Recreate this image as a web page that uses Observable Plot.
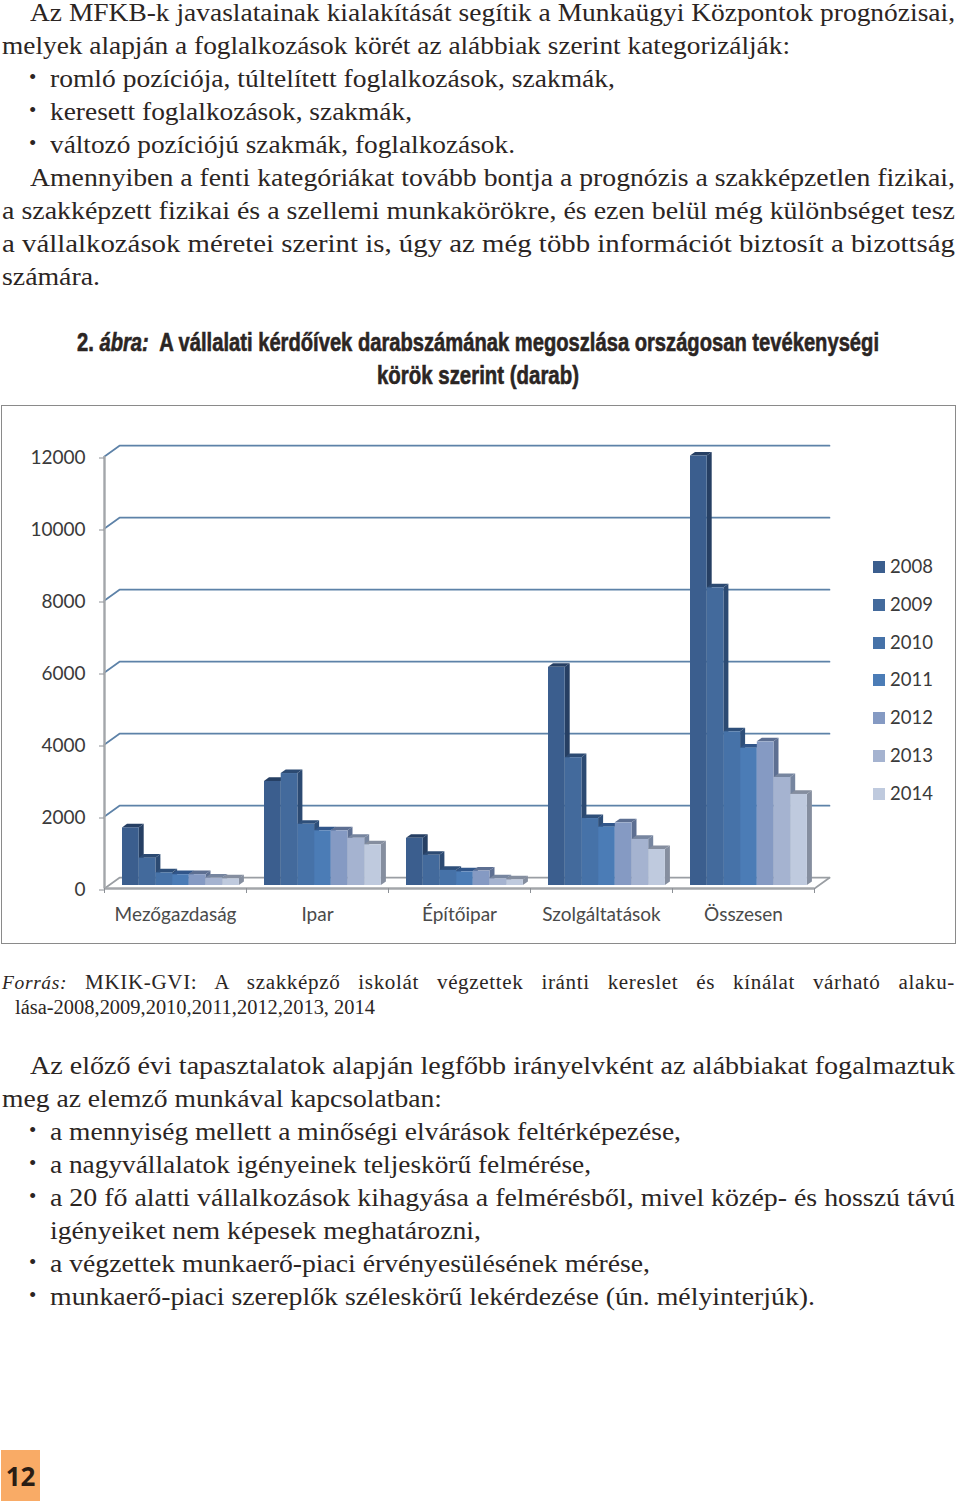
<!DOCTYPE html>
<html><head><meta charset="utf-8">
<script src="https://cdn.jsdelivr.net/npm/d3@7"></script>
<script src="https://cdn.jsdelivr.net/npm/@observablehq/plot@0.6"></script>
<style>
html,body{margin:0;padding:0;background:#fff;width:960px;height:1503px;overflow:hidden}
#page{position:relative;width:960px;height:1503px}
.ln{position:absolute;white-space:nowrap;font-family:"Liberation Serif",serif;font-size:26px;line-height:33px;height:33px;color:#2b2523;transform-origin:0 50%}
.ttl{font-family:"Liberation Sans Narrow","Liberation Sans",sans-serif;font-weight:700;font-size:26px;color:#2b2523;-webkit-text-stroke:0.6px #2b2523}
.src{font-size:20px;line-height:25px;height:25px}
.src i{font-size:18.5px}
#box{position:absolute;left:1px;top:405px;width:953px;height:537px;border:1px solid #8a8a8a;box-sizing:content-box}
#chart{position:absolute;left:0;top:0}
#legend{position:absolute;left:872px;top:548px;font-family:Lato,sans-serif;font-size:18.5px;color:#3a3a3a}
#legend div{position:relative;height:37.8px;line-height:37.8px;padding-left:18px}
#legend i{position:absolute;left:1px;top:13px;width:12px;height:12px}
#pg{position:absolute;left:1px;top:1450px;width:39px;height:51px;background:#f9ab66;color:#2a1d14;font:700 26px/52px "Open Sans",sans-serif;text-align:center}
</style></head><body><div id="page"></div>
<script>
const categories = ["Mezőgazdaság","Ipar","Építőipar","Szolgáltatások","Összesen"];
const years = ["2008","2009","2010","2011","2012","2013","2014"];
const v2008 = [1600,2890,1310,6060,11930];
const v2009 = [760,3110,840,3550,8270];
const v2010 = [350,1700,420,1860,4270];
const v2011 = [300,1520,380,1620,3815];
const v2012 = [300,1520,400,1740,3990];
const v2013 = [205,1310,185,1280,3000];
const v2014 = [185,1130,155,1000,2530];
const series = [v2008,v2009,v2010,v2011,v2012,v2013,v2014];
const frontColors = ["#3b5e8e","#436a9c","#4672a8","#4b7cb6","#859ac3","#a5b3d0","#bfcade"];
const sideColors  = ["#263f63","#2c4a72","#2e4f7a","#31568a","#5d6f92","#76859f","#858e9f"];
const yTicks = [0,2000,4000,6000,8000,10000,12000];

const bodyTop = [
 ["Az MFKB-k javaslatainak kialakítását segítik a Munkaügyi Központok prognózisai,",30,955,12],
 ["melyek alapján a foglalkozások körét az alábbiak szerint kategorizálják:",2,790,45],
 ["romló pozíciója, túltelített foglalkozások, szakmák,",50,615,78,1],
 ["keresett foglalkozások, szakmák,",50,412,111,1],
 ["változó pozíciójú szakmák, foglalkozások.",50,515,144,1],
 ["Amennyiben a fenti kategóriákat tovább bontja a prognózis a szakképzetlen fizikai,",30,955,177],
 ["a szakképzett fizikai és a szellemi munkakörökre, és ezen belül még különbséget tesz",2,955,210],
 ["a vállalkozások méretei szerint is, úgy az még több információt biztosít a bizottság",2,955,243],
 ["számára.",2,100,276],
 ["Az előző évi tapasztalatok alapján legfőbb irányelvként az alábbiakat fogalmaztuk",30,955,1065],
 ["meg az elemző munkával kapcsolatban:",2,442,1098],
 ["a mennyiség mellett a minőségi elvárások feltérképezése,",50,681,1131,1],
 ["a nagyvállalatok igényeinek teljeskörű felmérése,",50,591,1164,1],
 ["a 20 fő alatti vállalkozások kihagyása a felmérésből, mivel közép- és hosszú távú",50,955,1197,1],
 ["igényeiket nem képesek meghatározni,",50,481,1230],
 ["a végzettek munkaerő-piaci érvényesülésének mérése,",50,650,1263,1],
 ["munkaerő-piaci szereplők széleskörű lekérdezése (ún. mélyinterjúk).",50,815,1296,1]
];
const page = document.getElementById("page");
function fit(el,w){ page.appendChild(el); const r=el.getBoundingClientRect().width; el.style.transform=`scaleX(${w/r})`; }
function place(text,x0,x1,yc,cls){
  const d=document.createElement("div"); d.className="ln "+(cls||""); d.textContent=text;
  d.style.left=x0+"px"; d.style.top=(yc-16.5)+"px"; fit(d,x1-x0); return d;
}
for(const [t,a,b,y,bul] of bodyTop){
  place(t,a,b,y);
  if(bul) { const s=document.createElement("div"); s.className="ln"; s.textContent="•"; s.style.left="29px"; s.style.top=(y-17)+"px"; s.style.fontSize="21px"; page.appendChild(s); }
}
const t1=document.createElement("div"); t1.className="ln ttl";
t1.innerHTML='2. <i>ábra:</i>&nbsp; A vállalati kérdőívek darabszámának megoszlása országosan tevékenységi';
t1.style.left="77px"; t1.style.top="325.5px"; fit(t1,802);
place("körök szerint (darab)",377,579,375,"ttl");
const s1=document.createElement("div"); s1.className="ln src";
s1.innerHTML='<i>Forrás:</i> MKIK-GVI: A szakképző iskolát végzettek iránti kereslet és kínálat várható alaku-';
s1.style.left="2px"; s1.style.top="969.5px"; s1.style.wordSpacing="11.5px"; s1.style.letterSpacing="0.6px"; fit(s1,953);
const s2=document.createElement("div"); s2.className="ln src"; s2.textContent="lása-2008,2009,2010,2011,2012,2013, 2014";
s2.style.left="15px"; s2.style.top="994.5px"; fit(s2,360);
const pg=document.createElement("div"); pg.id="pg"; pg.textContent="12"; page.appendChild(pg);

// table
const rows = series.flatMap((vals,yi)=>vals.map((value,ci)=>({category:categories[ci],year:years[yi],yi,ci,value})));
const pxX = 142;            // px per category unit in the x scale
const pxY = 0.036;          // px per value unit in the y scale
const barW = 16.7/pxX, start = 18/pxX;
const depX = 5/pxX, depY = 3.6/pxY;
const wallX = 15/pxX, wallY = 10.8/pxY;
const x1 = d=>d.ci+start+d.yi*barW;
const x2 = d=>x1(d)+barW;
const sidePts = rows.flatMap(d=>[
  {k:d.category,yi:d.yi,x:x2(d),y1:0,y2:d.value},
  {k:d.category,yi:d.yi,x:x2(d)+depX,y1:depY,y2:d.value+depY}]);
const topPts = rows.flatMap(d=>[
  {k:d.category,yi:d.yi,x:x1(d),y1:d.value,y2:d.value},
  {k:d.category,yi:d.yi,x:x1(d)+depX,y1:d.value,y2:d.value+depY},
  {k:d.category,yi:d.yi,x:x2(d),y1:d.value,y2:d.value+depY},
  {k:d.category,yi:d.yi,x:x2(d)+depX,y1:d.value+depY,y2:d.value+depY}]);
const grid = yTicks.flatMap(v=>[
  {v,x:0,y:v},{v,x:wallX,y:v+wallY},{v,x:5+wallX,y:v+wallY}]);
const floorSide = [{x:5,y:0},{x:5+wallX,y:wallY}];
const barDy = -3;
const barMarks = years.flatMap((yr,yi)=>[
  Plot.areaY(sidePts.filter(d=>d.yi===yi),{x:"x",y1:"y1",y2:"y2",z:"k",fill:sideColors[yi],dy:barDy,curve:"linear"}),
  Plot.areaY(topPts.filter(d=>d.yi===yi),{x:"x",y1:"y1",y2:"y2",z:"k",fill:sideColors[yi],dy:barDy,curve:"linear"}),
  Plot.rectY(rows.filter(d=>d.yi===yi),{x1,x2,y1:0,y2:"value",fill:frontColors[yi],dy:barDy})
]);
const chart = Plot.plot({
  width:953,height:537,marginLeft:102,marginRight:141,marginTop:50,marginBottom:55,
  style:{fontFamily:"Lato,sans-serif",fontSize:"19px",color:"#3a3a3a",background:"transparent"},
  x:{type:"linear",domain:[0,5]},
  y:{domain:[0,12000]},
  marks:[
    Plot.line(grid.filter(d=>d.v>0),{x:"x",y:"y",z:"v",stroke:"#5d82a8",strokeWidth:1.7}),
    Plot.line(grid.filter(d=>d.v===0),{x:"x",y:"y",z:"v",stroke:"#9a9ea3",strokeWidth:1.7}),
    Plot.line(floorSide,{x:"x",y:"y",stroke:"#9a9ea3",strokeWidth:1.7}),
    Plot.ruleX([0],{y1:0,y2:12000,stroke:"#a3a6aa",strokeWidth:2.4}),
    Plot.ruleY([0],{x1:0,x2:5,stroke:"#a3a6aa",strokeWidth:2.4}),
    ...barMarks,
    Plot.axisY({ticks:yTicks,tickSize:5,tickPadding:14,dy:1.5,tickFormat:d=>String(d),stroke:"#8c9096",label:null}),
    Plot.axisX({ticks:[0,1,2,3,4,5],tickSize:5,tickFormat:()=>"",stroke:"#8c9096",label:null}),
    Plot.axisX({ticks:[0.5,1.5,2.5,3.5,4.5],tickSize:0,tickPadding:19,tickFormat:d=>categories[d-0.5],label:null,color:"#4a4a4a"})
  ]
});
chart.id="chart";
const box=document.createElement("div"); box.id="box"; box.appendChild(chart); page.appendChild(box);
const lg=document.createElement("div"); lg.id="legend";
years.forEach((y,i)=>{const d=document.createElement("div"); const k=document.createElement("i"); k.style.background=frontColors[i]; d.appendChild(k); d.appendChild(document.createTextNode(y)); lg.appendChild(d);});
page.appendChild(lg);
</script></body></html>
